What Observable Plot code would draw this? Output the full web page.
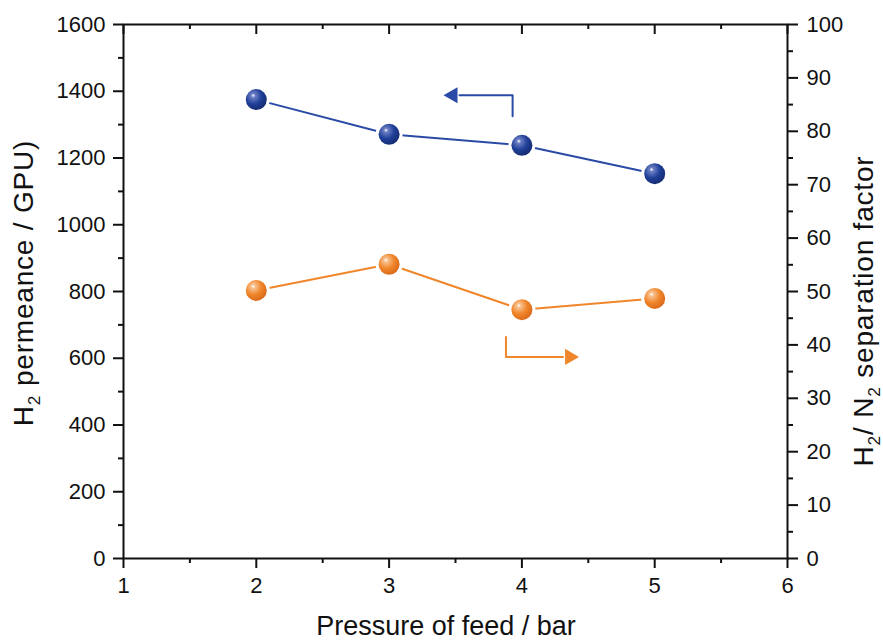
<!DOCTYPE html>
<html>
<head>
<meta charset="utf-8">
<script src="https://cdn.jsdelivr.net/npm/d3@7"></script>
<script src="https://cdn.jsdelivr.net/npm/@observablehq/plot@0.6"></script>
<style>
  html, body { margin: 0; padding: 0; background: #fff; }
  #chart { width: 883px; height: 641px; }
</style>
</head>
<body>
<div id="chart"></div>
<script>
// ---- data ----
const pressure = [2, 3, 4, 5];                 // bar
const permeance = [1375, 1271, 1238, 1153];    // GPU (left axis)
const selectivity = [50.2, 55.1, 46.6, 48.7];  // H2/N2 separation factor (right axis)

const xTicks = [1, 2, 3, 4, 5, 6];
const xMinorTicks = [1.5, 2.5, 3.5, 4.5, 5.5];
const leftTicks = [0, 200, 400, 600, 800, 1000, 1200, 1400, 1600];
const leftMinorTicks = [100, 300, 500, 700, 900, 1100, 1300, 1500];
const rightTicks = [0, 10, 20, 30, 40, 50, 60, 70, 80, 90, 100];
const rightMinorTicks = [5, 15, 25, 35, 45, 55, 65, 75, 85, 95];

// annotation arrows (data coordinates)
const blueArrowX = [3.93, 3.93, 3.53];
const blueArrowY = [1325, 1388, 1388];      // left-axis units
const blueHead = {x: 3.48, y: 1388};
const orangeArrowX = [3.88, 3.88, 4.31];
const orangeArrowY = [41.5, 37.75, 37.75];  // right-axis units
const orangeHead = {x: 4.36, y: 37.75};

// ---- scales ----
const leftMax = 1600, rightMax = 100;
const k = leftMax / rightMax; // right-axis value -> left-axis value

const blue = "#2a4aa6";
const orange = "#f0862c";

const permData = pressure.map((p, i) => ({x: p, y: permeance[i]}));
const selData = pressure.map((p, i) => ({x: p, y: selectivity[i] * k}));
const blueArrow = blueArrowX.map((x, i) => ({x, y: blueArrowY[i]}));
const orangeArrow = orangeArrowX.map((x, i) => ({x, y: orangeArrowY[i] * k}));

const fontFamily = "'Liberation Sans', Arial, Helvetica, sans-serif";
const fmt = d3.format("d");
const frameH = 641 - 24 - 83;

const chart = Plot.plot({
  width: 883,
  height: 641,
  marginLeft: 123,
  marginRight: 96,
  marginTop: 24,
  marginBottom: 83,
  style: {fontFamily, fontSize: "22px", color: "#111", background: "#fff"},
  x: {domain: [1, 6]},
  y: {domain: [0, leftMax]},
  marks: [
    // axes: left
    Plot.axisY({ticks: leftTicks, anchor: "left", tickSize: 10, tickPadding: 8, strokeWidth: 2, fontSize: 22, tickFormat: fmt, label: null}),
    Plot.axisY({ticks: leftMinorTicks, anchor: "left", tickSize: 5, strokeWidth: 2, tickFormat: () => "", label: null}),
    // right
    Plot.axisY({ticks: rightTicks.map(v => v * k), anchor: "right", tickSize: 10, tickPadding: 9, strokeWidth: 2, fontSize: 22, tickFormat: d => fmt(d / k), label: null}),
    Plot.axisY({ticks: rightMinorTicks.map(v => v * k), anchor: "right", tickSize: 5, strokeWidth: 2, tickFormat: () => "", label: null}),
    // bottom
    Plot.axisX({ticks: xTicks, anchor: "bottom", tickSize: 10, tickPadding: 9, strokeWidth: 2, fontSize: 22, tickFormat: fmt, label: null}),
    Plot.axisX({ticks: xMinorTicks, anchor: "bottom", tickSize: 5, strokeWidth: 2, tickFormat: () => "", label: null}),
    // top: inward ticks, no labels
    Plot.ruleX(xTicks, {x: d => d, stroke: "#111", strokeWidth: 2, insetBottom: frameH - 10}),
    Plot.ruleX(xMinorTicks, {x: d => d, stroke: "#111", strokeWidth: 2, insetBottom: frameH - 5}),
    Plot.frame({stroke: "#111", strokeWidth: 2}),

    // series lines
    Plot.line(permData, {x: "x", y: "y", stroke: blue, strokeWidth: 2}),
    Plot.line(selData, {x: "x", y: "y", stroke: orange, strokeWidth: 2}),
    // white halos to create gaps
    Plot.dot(permData, {x: "x", y: "y", r: 13.5, fill: "#fff", stroke: "none"}),
    Plot.dot(selData, {x: "x", y: "y", r: 13.5, fill: "#fff", stroke: "none"}),
    // spheres
    Plot.dot(permData, {x: "x", y: "y", r: 10.5, fill: "url(#sphereBlue)", stroke: "none"}),
    Plot.dot(selData, {x: "x", y: "y", r: 10.5, fill: "url(#sphereOrange)", stroke: "none"}),

    // arrows
    Plot.line(blueArrow, {x: "x", y: "y", stroke: blue, strokeWidth: 2}),
    Plot.dot([blueHead], {x: "x", y: "y", symbol: "triangle", r: 6, fill: blue, stroke: "none", rotate: -90}),
    Plot.line(orangeArrow, {x: "x", y: "y", stroke: orange, strokeWidth: 2}),
    Plot.dot([orangeHead], {x: "x", y: d => d.y * k, symbol: "triangle", r: 6, fill: orange, stroke: "none", rotate: 90})
  ]
});

// gradients for sphere-like markers
const svg = d3.select(chart);
const defs = svg.insert("defs", ":first-child");
function sphere(id, light, base, dark) {
  const g = defs.append("radialGradient").attr("id", id)
    .attr("cx", "38%").attr("cy", "35%").attr("r", "70%").attr("fx", "35%").attr("fy", "30%");
  g.append("stop").attr("offset", "0%").attr("stop-color", "#ffffff");
  g.append("stop").attr("offset", "14%").attr("stop-color", light);
  g.append("stop").attr("offset", "55%").attr("stop-color", base);
  g.append("stop").attr("offset", "100%").attr("stop-color", dark);
}
sphere("sphereBlue", "#6c7fc4", "#203f98", "#142a6e");
sphere("sphereOrange", "#f8c08e", "#f0852a", "#d8681a");

// axis titles with subscripts
const titleSize = 28;
const lt = svg.append("text")
  .attr("transform", "translate(33,283) rotate(-90)")
  .attr("text-anchor", "middle")
  .attr("letter-spacing", 0.8)
  .attr("font-family", fontFamily).attr("font-size", titleSize).attr("fill", "#111");
lt.append("tspan").text("H");
lt.append("tspan").attr("font-size", titleSize * 0.62).attr("dy", 7).text("2");
lt.append("tspan").attr("dy", -7).text(" permeance / GPU)");

const rt = svg.append("text")
  .attr("transform", "translate(873,311) rotate(-90)")
  .attr("text-anchor", "middle")
  .attr("letter-spacing", 0.8)
  .attr("font-family", fontFamily).attr("font-size", titleSize).attr("fill", "#111");
rt.append("tspan").text("H");
rt.append("tspan").attr("font-size", titleSize * 0.62).attr("dy", 7).text("2");
rt.append("tspan").attr("dy", -7).text("/ N");
rt.append("tspan").attr("font-size", titleSize * 0.62).attr("dy", 7).text("2");
rt.append("tspan").attr("dy", -7).text(" separation factor");

svg.append("text")
  .attr("x", 446).attr("y", 635)
  .attr("text-anchor", "middle")
  .attr("font-family", fontFamily).attr("font-size", 27).attr("fill", "#111")
  .text("Pressure of feed / bar");

document.getElementById("chart").appendChild(chart);
</script>
</body>
</html>
